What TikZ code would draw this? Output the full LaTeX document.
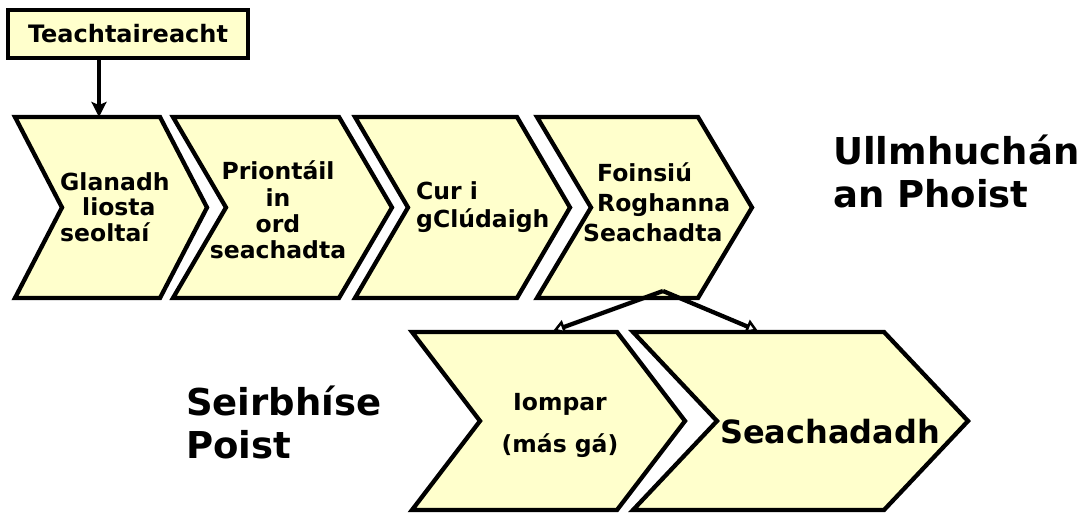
\documentclass[tikz,border=0pt]{standalone}
\usepackage{fontspec}
\setmainfont{DejaVu Sans}
\usetikzlibrary{arrows.meta}
\definecolor{chevfill}{HTML}{FFFFCC}
\newcommand\mlines[2]{\begin{tabular}[t]{@{}#1@{}}#2\end{tabular}}
% name, left, right, top, bottom, notch depth
\newcommand\chevshape[6]{%
  \draw[chev] (#2,#4) -- ({#3-#6},#4) -- (#3,{(#4+#5)/2}) -- ({#3-#6},#5)
    -- (#2,#5) -- ({#2+#6},{(#4+#5)/2}) -- cycle;
  \coordinate (#1) at ({(#2+#3)/2},{(#4+#5)/2});}
\tikzset{
  chev/.style={draw=black, fill=chevfill, line width=4.3pt, line join=miter},
  msgbox/.style={draw=black, fill=chevfill, line width=4.3pt, minimum width=240pt,
     minimum height=48pt, inner sep=0pt, font=\bfseries\fontsize{24}{25}\selectfont},
  lbl/.style={inner sep=0pt, font=\bfseries\fontsize{23.5}{25}\selectfont},
  biglbl/.style={inner sep=0pt, font=\bfseries\fontsize{37}{43}\selectfont},
  downarrow/.style={line width=4.3pt, -{Stealth[length=15pt,width=15pt,inset=3pt]}},
  splitarrow/.style={line width=4.3pt,
     -{Triangle[open,length=12pt,width=14pt,line width=2.5pt,fill=white]}},
}
\begin{document}
\begin{tikzpicture}[x=1pt,y=-1pt]
\useasboundingbox (0,0) rectangle (1086,513);

% top message box
\node[msgbox] (msg) at (128,34) {Teachtaireacht};

% top row chevrons
\chevshape{c1}{15}{207}{117}{298}{47}
\chevshape{c2}{173}{392}{117}{298}{53}
\chevshape{c3}{355}{570}{117}{298}{53}
\chevshape{c4}{537}{752}{117}{298}{54}
% bottom row chevrons
\chevshape{c5}{412}{685}{332}{510}{68}
\chevshape{c6}{633}{968}{332}{510}{84}

% texts in chevrons
\node[lbl, anchor=base west] (t1) at (60,190)
  {\mlines{l}{Glanadh\\\hspace*{22pt}liosta\\seoltaí}};
\node[lbl, anchor=base, font=\bfseries\fontsize{23.5}{26}\selectfont] (t2) at (278,180)
  {\mlines{c}{Priontáil\\in\\ord\\seachadta}};
\node[lbl, anchor=base west, font=\bfseries\fontsize{23.5}{28}\selectfont] (t3) at (416,200)
  {\mlines{l}{Cur i\\gClúdaigh}};
\node[lbl, anchor=base west, font=\bfseries\fontsize{23.5}{30}\selectfont] (t4) at (583,182)
  {\mlines{l}{\hspace*{14pt}Foinsiú\\\hspace*{14pt}Roghanna\\Seachadta}};
\node[lbl, anchor=base, font=\bfseries\fontsize{23.5}{42}\selectfont] (t5) at (560,410)
  {\mlines{c}{Iompar\\(más gá)}};
\node[lbl, anchor=base west, font=\bfseries\fontsize{32}{36}\selectfont] (t6) at (720,443)
  {Seachadadh};

% side labels
\node[biglbl, anchor=base west] (prep) at (833,165)
  {\mlines{l}{Ullmhuchán\\an Phoist}};
\node[biglbl, anchor=base west] (post) at (186,415)
  {\mlines{l}{Seirbhíse\\Poist}};

% connectors
\coordinate (c1top) at (99,117);
\draw[downarrow] (msg.south -| c1top) -- (c1top);
\coordinate (split) at (663,291);
\coordinate (c5top) at (553,331);
\coordinate (c6top) at (758,331);
\draw[splitarrow] (split) -- (c5top);
\draw[splitarrow] (split) -- (c6top);
\end{tikzpicture}
\end{document}
